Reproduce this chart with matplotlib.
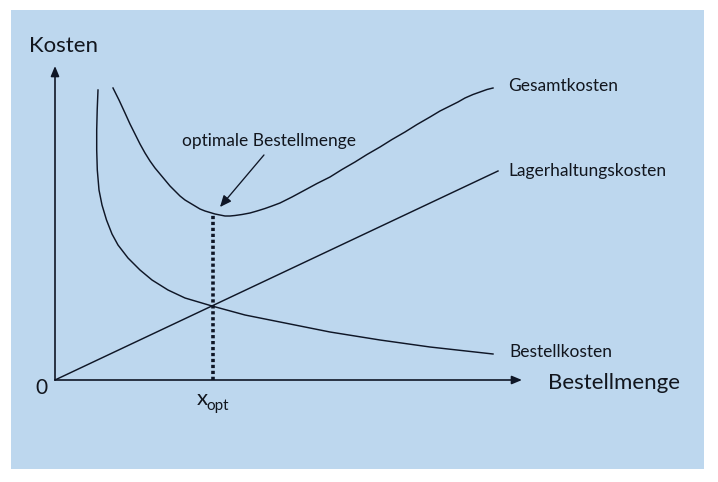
import numpy as np
import matplotlib
matplotlib.use("Agg")
import matplotlib.pyplot as plt
from matplotlib.patches import Rectangle

# Kostenverlauf (Einheiten: Bestellmenge u, Kosten v)
bestell_u = [43, 42.2, 41.7, 41.7, 42.3, 44, 47, 51.5, 57, 63, 73, 85, 97, 113, 130, 157, 190, 230, 275, 325, 375, 438]
bestell_v = [290, 270, 250, 230, 210, 190, 175, 160, 146, 135, 122, 110, 100, 90, 82, 74, 65, 57, 48, 40, 33, 26]

gesamt_u = [58, 64, 70, 75, 80, 85, 90, 95, 100, 105, 110, 115, 120, 125, 130, 135, 140, 145, 150, 155, 160, 165, 170,
            175, 180, 187, 195, 202, 210, 217, 225, 237, 250, 262, 275, 287, 300, 312, 325, 337, 350, 362, 375, 385,
            395, 403, 410, 418, 425, 432, 438]
gesamt_v = [292, 280, 267, 256, 246, 236, 227, 219, 212, 206, 200, 194, 189, 184, 180, 177, 174, 171, 169, 167.5, 166,
            165, 164, 164, 164.5, 165.5, 167, 169, 171.5, 174, 177, 183, 190, 196.5, 203, 210.5, 218, 225.5, 233,
            240.5, 248, 255.5, 263, 269, 274, 278, 282, 285.5, 288, 290.5, 292]

lager_u = [0, 443]
lager_v = [0, 209]

x_opt = 158
k_opt = 165

farbe = "#0f1626"
textfarbe = "#12161e"
schrift = ["Lato", "DejaVu Sans"]

fig = plt.figure(figsize=(7.18, 4.82), dpi=100)
ax = fig.add_axes([0, 0, 1, 1])
ax.set_xlim(-55, 663)
ax.set_ylim(-102, 380)
ax.axis("off")

# hellblauer Hintergrund
ax.add_patch(Rectangle((-44, -89), 693, 459, facecolor="#bdd7ee", edgecolor="none", zorder=0))

# Achsen mit Pfeilen
pfeil = dict(arrowstyle="-|>,head_length=0.6,head_width=0.25", lw=1.2, color=farbe,
             shrinkA=0, shrinkB=0)
ax.annotate("", xy=(0, 314), xytext=(0, 0), arrowprops=pfeil)
ax.annotate("", xy=(467, 0), xytext=(0, 0), arrowprops=pfeil)

ax.plot(bestell_u, bestell_v, color=farbe, lw=1.05, solid_joinstyle="round")
ax.plot(gesamt_u, gesamt_v, color=farbe, lw=1.05, solid_joinstyle="round")
ax.plot(lager_u, lager_v, color=farbe, lw=1.05)

# optimale Bestellmenge
ax.plot([x_opt, x_opt], [0, k_opt], color=farbe, lw=2.6, linestyle=(0, (0.9, 0.75)))
ax.annotate("optimale Bestellmenge", xy=(x_opt + 7, 173), xytext=(214, 234),
            ha="center", va="baseline", fontsize=12.5, color=textfarbe, family=schrift,
            arrowprops=dict(arrowstyle="-|>,head_length=0.55,head_width=0.24", lw=0.95,
                            color=farbe, shrinkA=3, shrinkB=0,
                            relpos=(0.5, 0)),
            annotation_clip=False)

ax.text(-26, 328, "Kosten", fontsize=16, color=textfarbe, family=schrift, va="baseline")
ax.text(493, -9, "Bestellmenge", fontsize=16, color=textfarbe, family=schrift, va="baseline")
ax.text(-13.5, -14, "0", fontsize=15, color=textfarbe, family=schrift, va="baseline", ha="center")
ax.text(142, -25, "x", fontsize=16, color=textfarbe, family=schrift, va="baseline")
ax.text(151.5, -30, "opt", fontsize=11, color=textfarbe, family=schrift, va="baseline")

ax.text(453, 289, "Gesamtkosten", fontsize=12.5, color=textfarbe, family=schrift, va="baseline")
ax.text(453, 204, "Lagerhaltungskosten", fontsize=12.5, color=textfarbe, family=schrift, va="baseline")
ax.text(454, 23, "Bestellkosten", fontsize=12.5, color=textfarbe, family=schrift, va="baseline")

fig.savefig("out.png", dpi=100, facecolor="white")
